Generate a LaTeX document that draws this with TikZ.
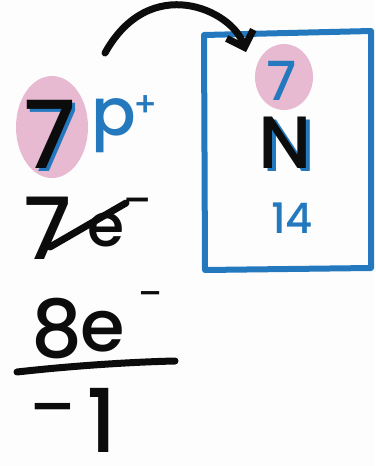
\documentclass[tikz,border=0pt]{standalone}
\usepackage{fontspec}
\setmainfont{Poppins}[UprightFont={* Medium}]
\usepackage{xcolor}
\usepackage{tikz}
\usetikzlibrary{arrows.meta,positioning,calc}
\definecolor{penblue}{RGB}{36, 120, 190}
\definecolor{penpink}{RGB}{232, 186, 210}
\definecolor{penblack}{RGB}{12, 12, 12}
\definecolor{paperbg}{RGB}{253, 253, 253}

\begin{document}
\begin{tikzpicture}[x=1pt, y=-1pt, every node/.style={inner sep=0pt},
    ink/.style={line width=7pt, line cap=round, line join=round, color=penblack}]
    \useasboundingbox (0,0) rectangle (375,466);
    \fill[paperbg] (0,0) rectangle (375,466);

    % Element Card
    \draw[draw=penblue, line width=6pt, line join=round] (204,35) -- (371,31) -- (371,268) -- (205,270) -- cycle;
    \fill[penpink] (284,77) ellipse (29 and 33);
    \node[color=penblue, font=\fontsize{54}{54}\selectfont] (cardZ) at (282,81) {7};
    \node[color=penblue, font=\fontsize{74}{74}\selectfont] (cardNshadow) at (289,146) {N};
    \node[color=penblack, font=\fontsize{74}{74}\selectfont] (cardN) at (285,143) {N};
    \node[color=penblue, font=\fontsize{42}{42}\selectfont] (cardA) at (292,218) {14};

    % Protons
    \fill[penpink] (52,127) ellipse (36 and 51);
    \node[color=penblue, font=\fontsize{94}{94}\selectfont] (protshadow) at (53,137) {7};
    \node[color=penblack, font=\fontsize{94}{94}\selectfont] (protons) at (50,134) {7};
    \node[color=penblue, font=\fontsize{66}{66}\selectfont] (plabel) at (114,126) {p};
    \node[color=penblue, font=\fontsize{34}{34}\selectfont] (pcharge) at (146,106) {+};

    % Move to card
    \coordinate (arrowstart) at (105,53);
    \coordinate (arrowend) at (246,52);
    \draw[ink, -{Straight Barb[length=14pt, width=28pt, line width=7pt]}] (arrowstart) .. controls (150,-28) and (232,10) .. (arrowend);

    % Electrons (old)
    \node[color=penblack, font=\fontsize{86}{86}\selectfont] (oldseven) at (48,228) {7};
    \node[color=penblack, font=\fontsize{60}{60}\selectfont] (olde) at (106,230) {e};
    \node[color=penblack, font=\fontsize{40}{40}\selectfont] (oldminus) at (138,206) {–};
    \coordinate (strikestart) at (50,247);
    \coordinate (strikeend) at (126,203);
    \draw[ink] (strikestart) -- (strikeend);

    % Electrons (new)
    \node[color=penblack, font=\fontsize{80}{80}\selectfont] (neweight) at (57,329) {8};
    \node[color=penblack, font=\fontsize{72}{72}\selectfont] (newe) at (103,332) {e};
    \node[color=penblack, font=\fontsize{34}{34}\selectfont] (newminus) at (151,299) {–};

    % Net charge
    \coordinate (rulestart) at (17,372);
    \coordinate (ruleend) at (175,361);
    \draw[ink] (rulestart) .. controls (70,366) and (130,362) .. (ruleend);
    \node[color=penblack, font=\fontsize{66}{66}\selectfont] (netminus) at (53,417) {–};
    \node[color=penblack, font=\fontsize{88}{88}\selectfont] (netone) at (102,420) {1};
\end{tikzpicture}
\end{document}
